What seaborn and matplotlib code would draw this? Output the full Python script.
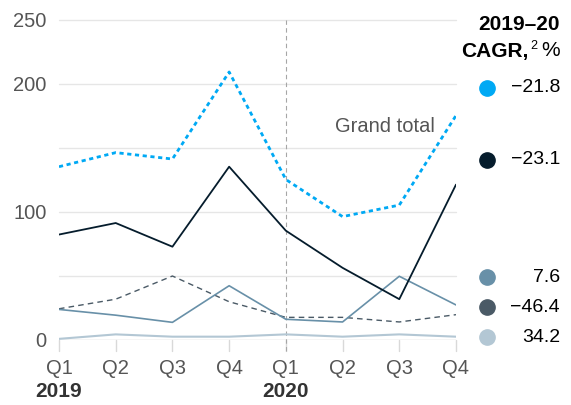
import pandas as pd
import numpy as np
import matplotlib.pyplot as plt
import seaborn as sns

quarters = ['Q1', 'Q2', 'Q3', 'Q4', 'Q1', 'Q2', 'Q3', 'Q4']
years = ['2019', '2020']

grand_total = [135, 146, 141, 209, 125, 96, 105, 175]
navy_series = [82, 91, 72.5, 135, 85, 56, 31.5, 121]
mid_series = [23.5, 19, 13.4, 42, 15.8, 13.7, 49.4, 27]
dark_series = [24, 31.5, 49.6, 29.5, 17.3, 17.3, 13.7, 19.4]
light_series = [0.5, 4, 2.2, 2.2, 4, 2.2, 4, 2.2]

cagr = ['\u221221.8', '\u221223.1', '7.6', '\u221246.4', '34.2']
colors = ['#00A9F4', '#051C2C', '#6890A8', '#4A5A66', '#B3C7D4']

sns.set_style('white')
plt.rcParams['font.family'] = ['Liberation Sans', 'DejaVu Sans']

fig = plt.figure(figsize=(5.71, 4.05), dpi=100)
ax = fig.add_axes([59 / 571, 1 - 339.5 / 405, (456 - 59) / 571, 320 / 405])

x = np.arange(len(quarters))
df = pd.DataFrame({'x': x, 'grand': grand_total, 'navy': navy_series,
                   'mid': mid_series, 'dark': dark_series, 'light': light_series})

# gridlines
for g in [50, 100, 150, 200, 250]:
    ax.axhline(g, color='#E6E6E6', lw=1, zorder=0, clip_on=False)
ax.axhline(0, color='#D0D0D0', lw=1, zorder=0)
for xi in x:
    ax.plot([xi, xi], [0, -9], color='#D9D9D9', lw=1, clip_on=False, zorder=0)
ax.plot([4, 4], [-9, 250], color='#A6A6A6', lw=0.8, ls=(0, (4, 3)), clip_on=False, zorder=1)

sns.lineplot(data=df, x='x', y='light', color=colors[4], lw=1.5, ax=ax, zorder=2)
sns.lineplot(data=df, x='x', y='dark', color=colors[3], lw=1.0, ax=ax, zorder=3,
             linestyle=(0, (4, 3)))
sns.lineplot(data=df, x='x', y='mid', color=colors[2], lw=1.2, ax=ax, zorder=4)
sns.lineplot(data=df, x='x', y='navy', color=colors[1], lw=1.3, ax=ax, zorder=5)
sns.lineplot(data=df, x='x', y='grand', color=colors[0], lw=2, ax=ax, zorder=6,
             linestyle=(0, (1.5, 1.3)))

ax.set_xlim(0, 7)
ax.set_ylim(0, 250)
ax.set_xlabel('')
ax.set_ylabel('')
for s in ax.spines.values():
    s.set_visible(False)
ax.set_yticks([0, 100, 200, 250])
ax.set_yticklabels(['0', '100', '200', '250'], fontsize=14.5, color='#555555')
ax.set_xticks(x)
ax.set_xticklabels(quarters, fontsize=14.5, color='#555555')
ax.tick_params(axis='y', length=0, pad=9)
ax.tick_params(axis='x', length=0, pad=14)

tr = ax.get_xaxis_transform()
for xi, yr in zip([0, 4], years):
    ax.text(xi, -0.162, yr, transform=tr, ha='center', va='center',
            fontsize=15, fontweight='bold', color='#333333')

ax.text(435 / 571, 1 - 127 / 405, 'Grand total', transform=fig.transFigure,
        ha='right', va='center', fontsize=14.5, color='#555555')

# legend column
fig.text(560 / 571, 1 - 25 / 405, '2019\u201320', ha='right', va='center',
         fontsize=15, fontweight='bold', color='#000000')
fig.text(560 / 571, 1 - 51 / 405, '%', ha='right', va='center',
         fontsize=15, color='#000000')
fig.text(530 / 571, 1 - 46 / 405, '2', ha='left', va='center',
         fontsize=9, color='#000000')
fig.text(528 / 571, 1 - 51 / 405, 'CAGR,', ha='right', va='center',
         fontsize=15, fontweight='bold', color='#000000')
marker_y = [88, 160, 277, 307, 337]
for c, v, my in zip(colors, cagr, marker_y):
    fig.lines.append(plt.Line2D([487 / 571], [1 - my / 405], marker='o', markersize=11,
                                color=c, transform=fig.transFigure, lw=0))
    fig.text(560 / 571, 1 - my / 405, v, ha='right', va='center', fontsize=14,
             color='#000000')

fig.savefig('out.png', dpi=100)
